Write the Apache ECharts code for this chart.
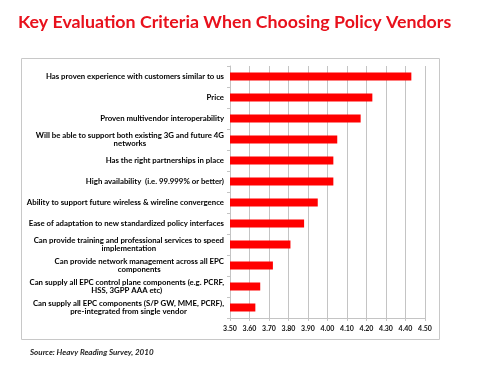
<!DOCTYPE html>
<html>
<head>
<meta charset="utf-8">
<script src="https://cdn.jsdelivr.net/npm/echarts@6/dist/echarts.min.js"></script>
<style>
  html, body { margin: 0; padding: 0; background: #fff; }
  #chart { width: 500px; height: 375px; }
</style>
</head>
<body>
<div id="chart"></div>
<script>
// criteria, top to bottom as in the picture
var criteria = [
  'Has proven experience with customers similar to us',
  'Price',
  'Proven multivendor interoperability',
  'Will be able to support both existing 3G and future 4G\nnetworks',
  'Has the right partnerships in place',
  'High availability  (i.e. 99.999% or better)',
  'Ability to support future wireless & wireline convergence',
  'Ease of adaptation to new standardized policy interfaces',
  'Can provide training and professional services to speed\nimplementation',
  'Can provide network management across all EPC\ncomponents',
  'Can supply all EPC control plane components (e.g. PCRF,\nHSS, 3GPP AAA etc)',
  'Can supply all EPC components (S/P GW, MME, PCRF),\npre-integrated from single vendor'
];
var scores = [4.43, 4.23, 4.17, 4.05, 4.03, 4.03, 3.95, 3.88, 3.81, 3.72, 3.655, 3.63];

var scaleMin = 3.5, scaleMax = 4.5, scaleStep = 0.1;

var chart = echarts.init(document.getElementById('chart'));
var gridGrey = '#c4c4c4';

chart.setOption({
  animation: false,
  title: {
    text: 'Key Evaluation Criteria When Choosing Policy Vendors',
    left: 13,
    top: 8,
    textStyle: { color: '#e8111c', fontFamily: 'Lato', fontWeight: 'bold', fontSize: 17.8 }
  },
  graphic: [
    { type: 'rect', shape: { x: 21.5, y: 58.5, width: 418, height: 281 },
      style: { fill: 'none', stroke: '#c8c8c8', lineWidth: 1 } },
    { type: 'text', left: 30, top: 348,
      style: { text: 'Source: Heavy Reading Survey, 2010', fill: '#222',
        font: 'italic bold 8px Lato' } }
  ],
  grid: { left: 230, right: 75, top: 66, bottom: 57, outerBoundsMode: 'none' },
  xAxis: {
    type: 'value',
    min: scaleMin, max: scaleMax, interval: scaleStep,
    axisLine: { show: true, lineStyle: { color: gridGrey } },
    axisTick: { show: true, length: 3, lineStyle: { color: gridGrey } },
    splitLine: { show: true, lineStyle: { color: gridGrey } },
    axisLabel: {
      margin: 7, color: '#111', fontFamily: 'Lato', fontWeight: 'bold', fontSize: 7,
      formatter: function (v) { return v.toFixed(2); }
    }
  },
  yAxis: {
    type: 'category',
    inverse: true,
    data: criteria,
    axisLine: { show: true, lineStyle: { color: gridGrey } },
    axisTick: { show: true, length: 3, lineStyle: { color: gridGrey } },
    axisLabel: {
      margin: 6, color: '#000', fontFamily: 'Lato', fontWeight: 'bold', fontSize: 7.8,
      lineHeight: 8,
      formatter: function (v) {
        return v.split('\n').map(function (l) { return '{c|' + l + '}'; }).join('\n');
      },
      rich: { c: { align: 'center', fontFamily: 'Lato', fontWeight: 'bold', fontSize: 7.8, lineHeight: 8, color: '#000' } }
    }
  },
  series: [{
    type: 'bar',
    data: scores,
    barWidth: 8,
    itemStyle: { color: '#ff0000' }
  }]
});
</script>
</body>
</html>
